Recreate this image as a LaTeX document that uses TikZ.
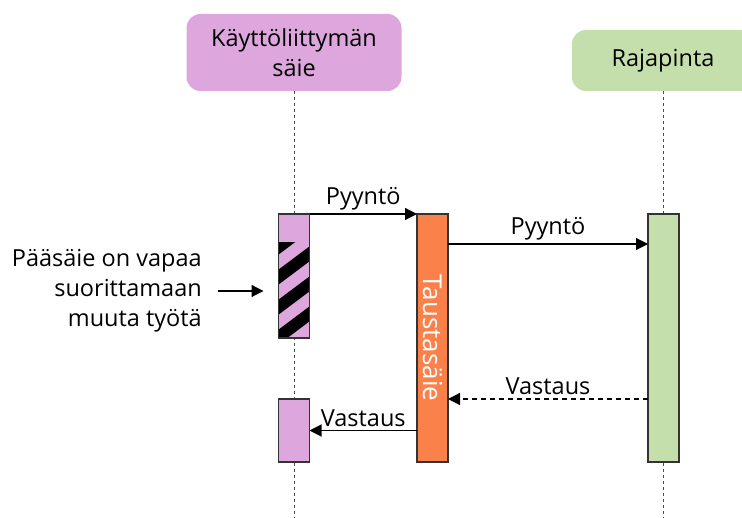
\documentclass[tikz,border=0pt]{standalone}
\usepackage{fontspec}
\setmainfont{Open Sans}
\usetikzlibrary{arrows.meta, positioning}
\definecolor{uipurple}{HTML}{DDA6DD}
\definecolor{apigreen}{HTML}{C4DFAB}
\definecolor{bgorange}{HTML}{FA8149}
\tikzset{
head/.style={rounded corners=14pt, inner sep=0pt, align=center}, % lane headers
bar/.style={draw=black!80, line width=1.2pt, minimum width=31pt, inner sep=0pt, outer sep=0pt, anchor=north}, % activation bars
msg/.style={-{Triangle[length=12pt, width=12pt]}, line width=1.2pt}, % call arrows
reply/.style={msg, dash pattern=on 5pt off 4pt}, % async answer
lifeline/.style={black!70, line width=0.8pt, dash pattern=on 3pt off 3pt},
every node/.style={font=\fontsize{23.5}{30}\selectfont},
}

\begin{document}
\begin{tikzpicture}[x=1pt, y=-1pt]
\useasboundingbox (0,0) rectangle (742,518);
\clip (0,0) rectangle (742,518);

% headers
\node[head, fill=uipurple, minimum width=215pt, minimum height=77pt] (ui) at (294,52.5) {Käyttöliittymän\\säie};
\node[head, fill=apigreen, minimum width=182pt, minimum height=61pt] (api) at (663,60.5) {Rajapinta};

% lifelines
\coordinate (uiend) at (294,518);
\coordinate (apiend) at (663,518);
\draw[lifeline] (ui.south) -- (uiend);
\draw[lifeline] (api.south) -- (apiend);

% activation bars
\node[bar, fill=uipurple, minimum height=124pt] (ui1) at (294,214) {};
% striped part: main thread is free
\begin{scope}
\clip ([yshift=-29pt]ui1.north west) rectangle (ui1.south east);
\foreach \c in {240,270,...,360}
  \fill[black] (278,\c) -- (278,\c+15) -- (310,\c-9) -- (310,\c-24) -- cycle;
\end{scope}
\draw[black!80, line width=1.2pt] (ui1.north west) rectangle (ui1.south east);
\node[bar, fill=uipurple, minimum height=63pt] (ui2) at (294,399) {};
\node[bar, fill=bgorange, minimum height=248pt] (bg) at (432.5,214) {};
\node[rotate=-90, text=white, font=\fontsize{26}{30}\selectfont] (bgname) at (bg.center) {Taustasäie};
\node[bar, fill=apigreen, minimum height=248pt] (api1) at (663.5,214) {};

% messages
\draw[msg] (ui1.north east) -- node[above] {Pyyntö} (bg.north west);
\draw[msg] ([yshift=-30pt]bg.north east) -- node[above] {Pyyntö} ([yshift=-30pt]api1.north west);
\draw[reply] (api1.west |- ui2.north) -- node[above] {Vastaus} (bg.east |- ui2.north);
\draw[msg] (bg.west |- ui2.east) -- node[above] {Vastaus} (ui2.east);

% note on the free main thread
\node[align=right, anchor=east, inner sep=0pt] (note) at (202,291) {Pääsäie on vapaa\\suorittamaan\\muuta työtä};
\draw[msg, shorten <=16pt, shorten >=15pt] (note.east) -- (note.east -| ui1.west);
\end{tikzpicture}
\end{document}
